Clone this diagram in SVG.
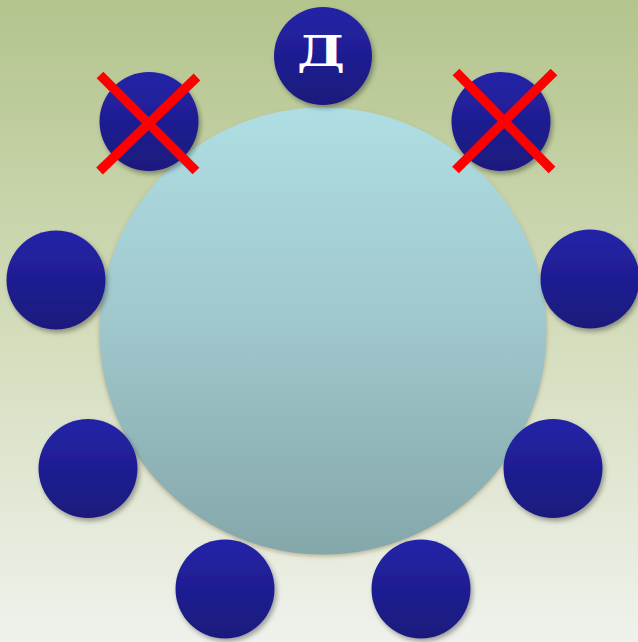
<svg xmlns="http://www.w3.org/2000/svg" width="638" height="642" viewBox="0 0 638 642">
<defs>
<linearGradient id="bg" x1="0" y1="0" x2="0" y2="1">
<stop offset="0" stop-color="#b3c48d"/>
<stop offset="0.5" stop-color="#d3dcba"/>
<stop offset="1" stop-color="#eff2ec"/>
</linearGradient>
<linearGradient id="table" x1="0" y1="0" x2="0" y2="1">
<stop offset="0" stop-color="#aedee3"/>
<stop offset="0.5" stop-color="#9fc6cb"/>
<stop offset="1" stop-color="#84a7aa"/>
</linearGradient>
<linearGradient id="seat" x1="0" y1="0" x2="0" y2="1">
<stop offset="0" stop-color="#2323a8"/>
<stop offset="1" stop-color="#1b197c"/>
</linearGradient>
<filter id="sh" x="-20%" y="-20%" width="140%" height="140%">
<feDropShadow dx="2" dy="3" stdDeviation="2.5" flood-color="#000" flood-opacity="0.35"/>
</filter>
<filter id="sh2" x="-10%" y="-10%" width="120%" height="120%">
<feDropShadow dx="0" dy="2" stdDeviation="2" flood-color="#8a7a50" flood-opacity="0.5"/>
</filter>
</defs>
<style>
.seat{fill:url(#seat);filter:url(#sh)}
.x{stroke:#ff0000;stroke-width:9.5;stroke-linecap:butt}
.lbl{font-family:"DejaVu Serif","Liberation Serif",serif;font-weight:bold;font-size:42px;fill:#ffffff}
</style>
<rect width="638" height="642" fill="url(#bg)"/>
<g id="table-node"><circle cx="323" cy="331" r="223.5" fill="url(#table)" filter="url(#sh2)"/></g>
<g id="seat-top"><circle class="seat" cx="323" cy="56" r="49"/><text class="lbl" x="321" y="66" text-anchor="middle" textLength="48" lengthAdjust="spacingAndGlyphs">Д</text></g>
<g id="seat-tl"><circle class="seat" cx="149" cy="121.5" r="49.5"/></g>
<g id="seat-tr"><circle class="seat" cx="501" cy="121.5" r="49.5"/></g>
<g id="seat-l"><circle class="seat" cx="56" cy="280" r="49.5"/></g>
<g id="seat-r"><circle class="seat" cx="590" cy="279" r="49.5"/></g>
<g id="seat-ll"><circle class="seat" cx="88" cy="468.5" r="49.5"/></g>
<g id="seat-lr"><circle class="seat" cx="553" cy="468.5" r="49.5"/></g>
<g id="seat-bl"><circle class="seat" cx="225" cy="589" r="49.5"/></g>
<g id="seat-br"><circle class="seat" cx="421" cy="589" r="49.5"/></g>
<g id="connectors">
<line class="x" x1="100" y1="75" x2="196" y2="171"/>
<line class="x" x1="197" y1="77" x2="99.5" y2="171"/>
<line class="x" x1="456" y1="72" x2="552" y2="170"/>
<line class="x" x1="554" y1="72" x2="455.5" y2="170"/>
</g>
</svg>
